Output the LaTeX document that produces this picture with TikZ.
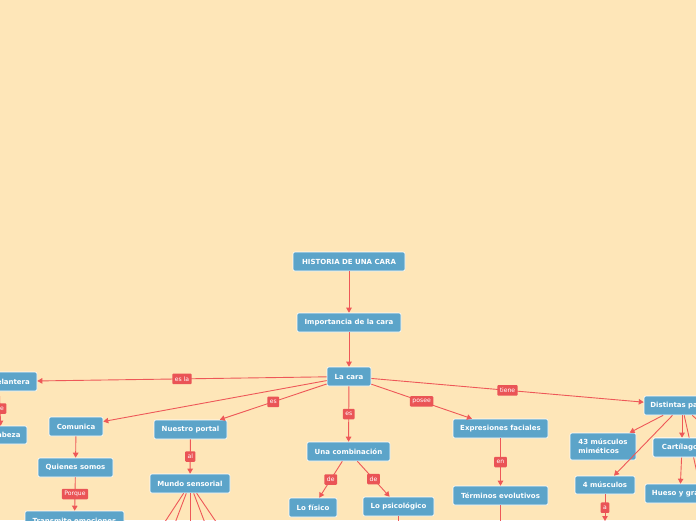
\documentclass[tikz,border=0pt]{standalone}
\usepackage{fontspec}
\setmainfont{DejaVu Sans}
\usetikzlibrary{arrows.meta}
\definecolor{bgpeach}{RGB}{254,230,184}
\definecolor{nodeblue}{RGB}{92,164,201}
\definecolor{edgered}{RGB}{238,88,88}
\definecolor{lblred}{RGB}{234,84,86}
\begin{document}
\begin{tikzpicture}[x=1pt,y=-1pt,
  box/.style={rectangle, rounded corners=2pt, fill=nodeblue, draw=white, line width=0.6pt,
    text=white, font=\bfseries\fontsize{7}{8.8}\selectfont, minimum height=19pt,
    inner sep=0pt, align=center},
  conn/.style={draw=edgered, line width=0.9pt, -{Triangle[length=5pt,width=5.5pt]}},
  lbl/.style={fill=lblred, text=white, font=\fontsize{6.1}{7}\selectfont,
    inner xsep=2.5pt, inner ysep=0pt, minimum height=10.5pt, rounded corners=1pt}]
\path[use as bounding box, fill=bgpeach] (0,0) rectangle (696,520);
\clip (0,0) rectangle (696,520);

% nodes
\node[box, minimum width=112pt] (h) at (349,261.5) {HISTORIA DE UNA CARA};
\node[box, minimum width=104pt] (imp) at (349,322.5) {Importancia de la cara};
\node[box, minimum width=44pt] (cara) at (349,376.5) {La cara};
\node[box, minimum width=76pt] (del) at (-1,381.5) {Parte delantera};
\node[box, minimum width=52pt, minimum height=18pt] (cab) at (1,435) {La cabeza};
\node[box, minimum width=54pt] (com) at (76,426.5) {Comunica};
\node[box, minimum width=75pt] (qs) at (75.5,467.5) {Quienes somos};
\node[box, minimum width=99pt] (tr) at (74.5,520.5) {Transmite emociones};
\node[box, minimum width=73pt] (np) at (190.5,429.5) {Nuestro portal};
\node[box, minimum width=80pt] (ms) at (190,483.5) {Mundo sensorial};
\node[box, minimum width=83pt] (uc) at (348.5,451.5) {Una combinación};
\node[box, minimum width=48pt] (lf) at (313,507.5) {Lo físico};
\node[box, minimum width=71pt] (lp) at (398.5,506.5) {Lo psicológico};
\node[box, minimum width=95pt] (ef) at (500.5,428.5) {Expresiones faciales};
\node[box, minimum width=95pt] (te) at (500.5,495.5) {Términos evolutivos};
\node[box, minimum width=76pt] (dp) at (682,405.5) {Distintas partes};
\node[box, minimum width=66pt, minimum height=27pt, align=left] (m43) at (603,446.5) {43 músculos\\miméticos};
\node[box, minimum width=60pt, minimum height=18pt] (m4) at (605,485) {4 músculos};
\node[box, minimum width=58pt] (cart) at (682,447.5) {Cartílagos};
\node[box, minimum width=70pt] (hg) at (680,493.5) {Hueso y grasa};

% off-frame ends
\coordinate (ms1) at (140,560);
\coordinate (ms2) at (161,560);
\coordinate (ms3) at (190,560);
\coordinate (ms4) at (219,560);
\coordinate (ms5) at (242,560);
\coordinate (lpd) at (398.5,545);
\coordinate (ted) at (500.5,545);
\coordinate (m4d) at (605,521);
\coordinate (off1) at (712,540);
\coordinate (off2) at (750,470);

% connectors
\draw[conn] (h) -- (imp);
\draw[conn] (imp) -- (cara);
\draw[conn] (cara) -- node[lbl]{es la} (del);
\draw[conn] (del) -- node[lbl]{de} (cab);
\draw[conn] (cara) -- (com);
\draw[conn] (com) -- (qs);
\draw[conn] (qs) -- node[lbl]{Porque} (tr);
\draw[conn] (cara) -- node[lbl]{es} (np);
\draw[conn] (np) -- node[lbl]{al} (ms);
\foreach \t in {ms1,ms2,ms3,ms4,ms5} \draw[conn] (ms) -- (\t);
\draw[conn] (cara) -- node[lbl]{es} (uc);
\draw[conn] (uc) -- node[lbl]{de} (lf);
\draw[conn] (uc) -- node[lbl]{de} (lp);
\draw[conn] (lp) -- (lpd);
\draw[conn] (cara) -- node[lbl]{posee} (ef);
\draw[conn] (ef) -- node[lbl]{en} (te);
\draw[conn] (te) -- (ted);
\draw[conn] (cara) -- node[lbl]{tiene} (dp);
\draw[conn] (dp) -- (m43);
\draw[conn] (dp) -- (m4);
\draw[conn] (dp) -- (off1);
\draw[conn] (dp) -- (off2);
\draw[conn] (dp) -- (cart);
\draw[conn] (cart) -- (hg);
\draw[conn] (m4) -- node[lbl]{a} (m4d);

% redraw node that lines pass behind
\node[box, minimum width=58pt] at (682,447.5) {Cartílagos};
\end{tikzpicture}
\end{document}
